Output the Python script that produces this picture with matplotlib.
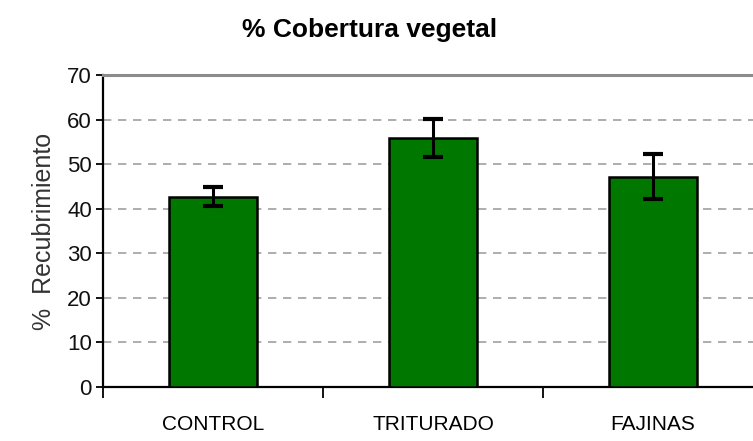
import numpy as np
import matplotlib.pyplot as plt

# datos
categorias = ['CONTROL', 'TRITURADO', 'FAJINAS']
recubrimiento = [42.7, 55.8, 47.2]
error = [2.1, 4.3, 5.1]

fuente = 'Liberation Sans'

fig = plt.figure(figsize=(7.53, 4.41), dpi=100)
# el eje sigue más allá del borde derecho (como en la imagen recortada)
ax = fig.add_axes([103 / 753, 54 / 441, 660 / 753, 312 / 441])

x = np.arange(len(categorias))
ax.bar(x, recubrimiento, width=0.4, color='#007800', edgecolor='black', linewidth=1.8, zorder=3)
ax.errorbar(x, recubrimiento, yerr=error, fmt='none', ecolor='black', elinewidth=2.2,
            capsize=7, capthick=3, zorder=4)

ax.set_xlim(-0.5, 2.5)
ax.set_ylim(0, 70)
ax.set_yticks(range(0, 71, 10))
ax.set_xticks(x)
ax.set_xticklabels(categorias, fontfamily=fuente, fontsize=15)
ax.set_xticks([-0.5, 0.5, 1.5, 2.5], minor=True)
ax.tick_params(axis='x', which='major', length=0, pad=20)
ax.tick_params(axis='x', which='minor', length=8, width=1.3, color='black', direction='out')
ax.tick_params(axis='y', length=5, width=1.3, direction='out', pad=3)
for lab in ax.get_yticklabels():
    lab.set_fontfamily(fuente)
    lab.set_fontsize(16)
    lab.set_color('#111111')

ax.yaxis.grid(True, linestyle=(0, (5, 4)), color='#a0a0a0', linewidth=1.2, zorder=0)

ax.spines['left'].set_linewidth(1.6)
ax.spines['bottom'].set_linewidth(1.6)
ax.spines['top'].set_color('#8c8c8c')
ax.spines['top'].set_linewidth(2.2)
ax.spines['right'].set_visible(False)

ax.set_ylabel('%  Recubrimiento', fontfamily=fuente, fontsize=18, color='#333333',
              labelpad=8)
fig.text(370 / 753, 1 - 30 / 441, '% Cobertura vegetal', ha='center', va='center',
         fontfamily=fuente, fontsize=19, fontweight='bold')

fig.savefig('out.png', dpi=100)
